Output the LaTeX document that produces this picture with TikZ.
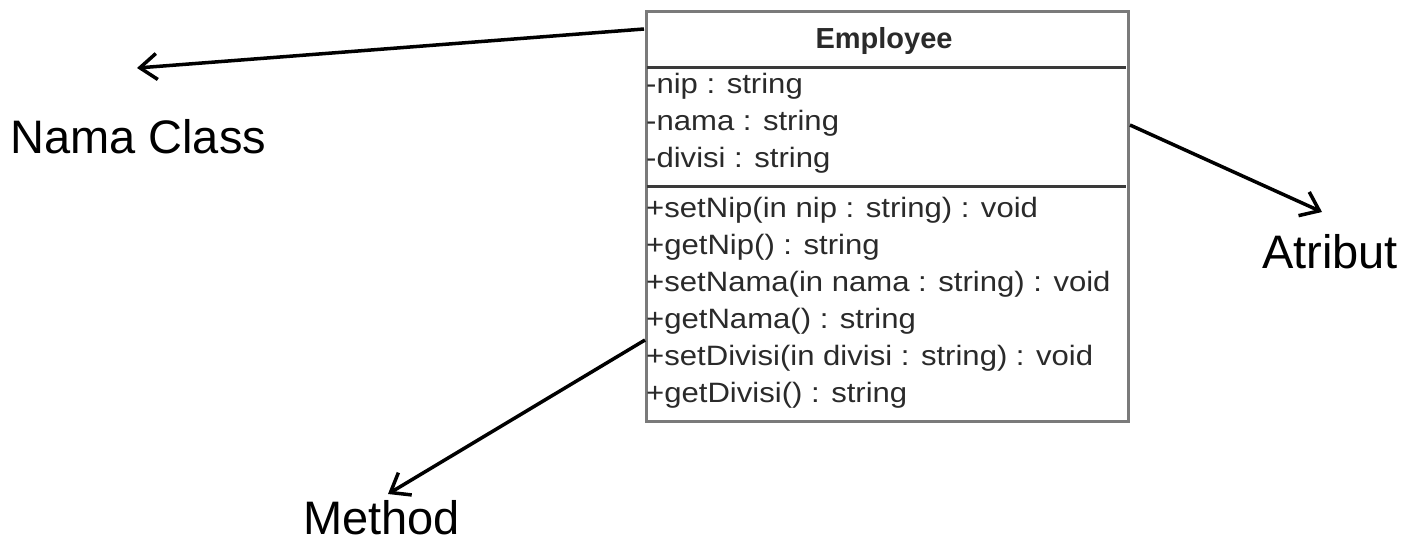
\documentclass[tikz,border=0pt]{standalone}
\usepackage{fontspec}
\setmainfont{Liberation Sans}
\usetikzlibrary{arrows.meta}
\definecolor{boxgray}{HTML}{7A7A7A}
\definecolor{sepgray}{HTML}{3A3A3A}
\definecolor{txtgray}{HTML}{2A2A2A}
\tikzset{
  label/.style={anchor=base west,inner sep=0pt,font=\fontsize{47}{56}\selectfont,text=black},
  member/.style={anchor=base west,inner sep=0pt,font=\fontsize{28}{34}\selectfont,text=txtgray},
  pointer/.style={line width=3.5pt,-{Straight Barb[length=17pt,width=26pt,line width=3.5pt]}},
  umlbox/.style={draw=boxgray,line width=3pt,fill=white},
  sepline/.style={draw=sepgray,line width=3pt}
}
\newcommand{\mtxt}[1]{\scalebox{1.11}[1]{#1}}
\begin{document}
\begin{tikzpicture}[x=1pt,y=-1pt]
\useasboundingbox (0,0) rectangle (1408,544);
% class box
\node[umlbox,minimum width=482pt,minimum height=410pt,anchor=north west,inner sep=0pt] (box) at (645,10) {};
\draw[sepline] (646.5,67) -- (1125.5,67);
\draw[sepline] (646.5,186) -- (1125.5,186);
\node[anchor=base,inner sep=0pt,font=\fontsize{29}{34}\selectfont\bfseries,text=txtgray] (title) at (884,48) {Employee};
% attributes
\node[member] (a1) at (646,93) {\mtxt{-nip : string}};
\node[member] (a2) at (646,130) {\mtxt{-nama : string}};
\node[member] (a3) at (646,167) {\mtxt{-divisi : string}};
% methods
\node[member] (m1) at (646,217) {\mtxt{+setNip(in nip : string) : void}};
\node[member] (m2) at (646,254) {\mtxt{+getNip() : string}};
\node[member] (m3) at (646,291) {\mtxt{+setNama(in nama : string) : void}};
\node[member] (m4) at (646,328) {\mtxt{+getNama() : string}};
\node[member] (m5) at (646,365) {\mtxt{+setDivisi(in divisi : string) : void}};
\node[member] (m6) at (646,402) {\mtxt{+getDivisi() : string}};
% labels
\node[label] (lclass) at (10,153) {Nama Class};
\node[label] (lattr) at (1262,268) {Atribut};
\node[label] (lmeth) at (303,534) {Method};
% connectors
\coordinate (sclass) at (644,29);
\coordinate (tclass) at (137,68);
\coordinate (sattr) at (1130,125);
\coordinate (tattr) at (1322,212);
\coordinate (smeth) at (645,340);
\coordinate (tmeth) at (388,494);
\draw[pointer] (sclass) -- (tclass);
\draw[pointer] (sattr) -- (tattr);
\draw[pointer] (smeth) -- (tmeth);
\end{tikzpicture}
\end{document}
